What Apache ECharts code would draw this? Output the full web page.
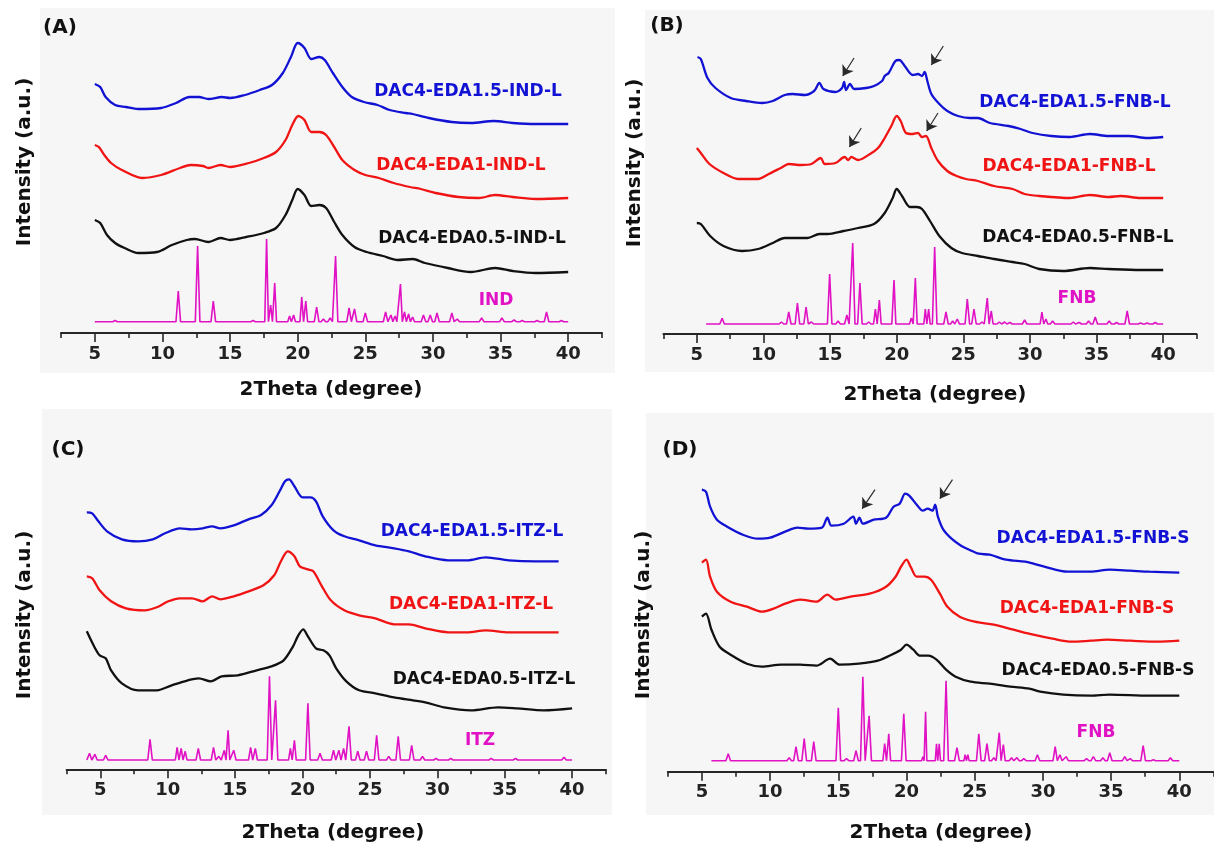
<!DOCTYPE html>
<html>
<head>
<meta charset="utf-8">
<title>XRD patterns</title>
<script src="https://cdn.jsdelivr.net/npm/echarts@6.0.0/dist/echarts.min.js"></script>
<style>
  html, body { margin: 0; padding: 0; background: #fff; }
  #chart { width: 1214px; height: 843px; }
</style>
</head>
<body>
<div id="chart"></div>
<script>
// tick labels of the 2Theta axis
var majorTicks = [5, 10, 15, 20, 25, 30, 35, 40];
var minorTicks = [2.5, 7.5, 12.5, 17.5, 22.5, 27.5, 32.5, 37.5, 42.5];

// (A) IND series, [2theta, intensity]
var blueA = [[5,249],[5.4,246],[5.8,236],[6.5,228],[7.3,226],[8.2,224],[9.9,225],[11,230],[12,236],[12.7,236],[13.4,234],[14.4,236],[15,235],[16.1,238],[17.2,243],[18.1,248],[18.9,260],[19.5,276],[20,290],[20.5,285],[21,274],[21.6,276],[22,273],[22.6,260],[23.3,246],[24,236],[24.9,231],[25.9,228],[26.8,223],[28,220],[28.5,219],[29.7,215],[31.4,211],[32.8,210],[34.5,212],[35.9,210],[37.6,209],[40,209]];
var redA = [[5,188],[5.3,186],[5.7,178],[6.2,170],[7,163],[8.5,155],[9.9,158],[11.3,165],[12.1,168],[13,167],[13.4,165],[14.3,168],[15,166],[16.4,170],[17.5,175],[18.4,181],[19.1,193],[19.6,208],[20.05,217],[20.5,213],[21,201],[21.6,201],[22.1,198],[22.7,186],[23.3,173],[24.2,163],[25,158],[26,155],[27.1,150],[28.3,146],[29.1,144],[30.2,140],[31.9,136],[33.4,135],[34.6,138],[35.9,136],[37.6,134],[40,135]];
var blackA = [[5,113],[5.4,110],[5.9,98],[6.5,90],[7.2,85],[8.2,80],[9.6,81],[10.7,88],[11.8,93],[12.4,94],[13.4,91],[14.3,95],[15,93],[16.2,96],[17.5,100],[18.4,105],[19.1,118],[19.6,133],[20,144],[20.5,138],[21,127],[21.6,128],[22.1,125],[22.7,111],[23.3,98],[24.2,86],[25.1,81],[26.3,77],[27.4,73],[28.5,74],[29.4,70],[31.1,65],[32.8,61],[34.6,65],[35.9,62],[37.6,60],[40,61]];
var peaksIND = [[6.5,12.5],[11.17,42],[12.6,87],[13.76,32],[16.7,12.5],[17.7,94],[18,28],[18.3,50],[19.4,17],[19.7,18],[20.3,36],[20.6,32],[21.4,26],[21.9,14],[22.4,15],[22.8,77],[23.8,25],[24.2,24],[25,20],[26.5,21],[26.9,18],[27.2,17],[27.6,49],[27.9,21],[28.2,19],[28.5,16],[29.3,18],[29.8,18],[30.3,20],[31.4,20],[31.8,14],[33.6,15],[35.1,15],[36,13],[36.6,12.5],[37.7,12.5],[38.4,21],[39.5,12.5]];

// (B) FNB liquid series
var blueB = [[5.05,277],[5.3,275],[5.8,256],[6.4,246],[7.55,236],[8.7,233],[9.9,231],[10.7,233],[11.6,239],[12.2,240],[13.1,239],[13.8,243],[14.2,251],[14.5,245],[15.4,242],[15.9,246],[16.05,252],[16.2,244],[16.5,250],[16.8,245],[17.7,246],[18.3,248],[18.9,253],[19.1,258],[19.4,261],[19.9,273],[20.2,274],[20.6,268],[21.2,259],[21.6,260],[21.9,258],[22.1,262],[22.3,253],[22.6,240],[23.2,230],[23.8,223],[24.6,218],[25.5,216],[26.1,216],[27,211],[28.4,208],[29.3,205],[30.2,201],[31.6,198],[33,197],[34.5,200],[35.9,198],[37.4,198],[38.8,196],[40,197]];
var redB = [[5,186],[5.3,181],[5.95,170],[7,161],[8.1,155],[9.6,155],[10.4,160],[11.3,166],[11.9,170],[12.8,169],[13.6,170],[14.3,176],[14.6,170],[15.4,171],[16.1,177],[16.35,174],[16.6,177],[17.1,174],[18,180],[18.6,186],[19.1,196],[19.6,208],[20,218],[20.3,213],[20.7,201],[21.2,200],[21.6,201],[21.9,197],[22.2,198],[22.6,186],[23.1,173],[23.8,163],[24.5,158],[25.2,155],[26.1,153],[27.3,148],[28.7,145],[29.6,140],[30.7,138],[33,136],[34.5,139],[35.9,137],[36.8,138],[38.3,136],[40,136]];
var blackB = [[5,111],[5.3,110],[6,98],[7,88],[8.4,83],[9.6,85],[10.7,91],[11.6,96],[12.5,96],[13.3,96],[14.2,100],[14.8,100],[16,103],[17.1,106],[18.3,110],[19.1,121],[19.7,136],[20,145],[20.4,138],[21,127],[21.5,127],[21.9,125],[22.5,113],[23.2,98],[24.1,86],[24.9,81],[26.1,78],[27.3,75],[28.7,72],[29.6,70],[30.7,65],[32.5,63],[34.5,66],[35.9,65],[38.3,64],[40,64]];
var peaksFNB1 = [[6.9,15.7],[11.35,12],[11.9,22],[12.55,31],[13.2,27],[13.6,12],[14.97,60],[15.6,13],[16.26,19],[16.7,91],[17.24,51],[17.9,12],[18.4,25],[18.7,34],[19.5,12],[19.8,54],[21.1,16],[21.4,56],[22.15,25],[22.4,25],[22.85,87],[23.7,22],[24.2,13],[24.55,15],[25.3,35],[25.8,25],[26.4,12],[26.8,36],[27.1,23],[27.7,12],[28.1,12],[28.5,11.5],[29.6,14],[30.9,22],[31.2,15],[31.7,13],[33.25,12],[33.7,11.5],[34.4,13],[34.9,17],[35.95,13],[36.5,11.5],[37.3,23],[38.3,11],[38.8,11],[39.4,11.5]];

// (C) ITZ series
var blueC = [[4,257],[4.4,256],[4.8,249],[5.5,238],[6.6,230],[7.8,228],[8.9,230],[9.8,236],[10.9,241],[11.8,240],[12.6,241],[13.3,243],[13.9,241],[14.9,244],[16,250],[16.9,254],[17.7,264],[18.3,278],[18.7,288],[19,290],[19.4,283],[20,272],[20.6,272],[21,268],[21.5,253],[22.3,239],[23.1,233],[24.2,229],[25.4,224],[26.8,221],[27.9,218],[29.1,213],[30.8,209],[32.2,209],[33.6,212],[35.3,209],[37.3,208],[39,208]];
var redC = [[4,193],[4.4,191],[4.95,179],[5.8,168],[6.9,161],[8.3,159],[9.2,162],[10.05,168],[10.9,171],[11.8,171],[12.6,168],[13.3,173],[13.9,170],[14.9,173],[16,178],[17.1,184],[17.9,194],[18.4,208],[18.9,218],[19.4,213],[19.8,203],[20.4,200],[20.8,198],[21.4,184],[22.1,169],[23.1,159],[24.2,154],[25.4,151],[26.8,145],[27.9,145],[29.1,141],[30.8,137],[32.2,137],[33.6,139],[35.3,137],[37.3,137],[39,137]];
var blackC = [[4,138],[4.5,124],[4.95,114],[5.4,111],[5.8,99],[6.6,86],[7.8,79],[9.2,79],[10.3,84],[11.5,89],[12.3,91],[13.2,88],[14,93],[15.2,94],[16.6,99],[17.7,103],[18.6,109],[19.3,123],[19.65,133],[20.05,140],[20.4,133],[21,121],[21.55,119],[22,114],[22.5,101],[23.25,88],[24.2,79],[25.4,76],[26.8,72],[28.2,69],[29.1,67],[30.5,62],[32.5,59],[34.5,62],[35.9,61],[37.9,59],[40,61]];
var peaksITZ = [[4.2,16],[4.6,15],[5.4,14],[8.69,30],[10.7,22],[11,21],[11.3,18],[12.27,21],[13.4,22],[13.8,13],[14.2,19],[14.48,39],[14.9,19],[16.15,22],[16.5,21],[17.55,93],[18,69],[19.1,21],[19.4,29],[20.4,66],[21.3,16],[22.3,19],[22.7,19],[23.05,21],[23.45,43],[24.1,18],[24.75,18],[25.5,34],[26.4,13],[27.1,33],[28.1,24],[28.9,13],[29.9,11],[31,11],[34,11],[35.8,11],[39.4,12]];

// (D) FNB solid series
var blueD = [[5,282],[5.3,280],[5.6,265],[6.1,252],[6.85,245],[8,237],[9.1,233],[10,234],[11.1,240],[12,244],[12.8,243],[13.8,244],[14.2,254],[14.5,246],[15.4,248],[16.1,255],[16.3,248],[16.55,254],[16.8,248],[17.6,252],[18.5,254],[19.05,265],[19.5,268],[19.9,278],[20.2,276],[20.75,267],[21.2,261],[21.55,263],[21.9,261],[22.1,267],[22.3,255],[22.7,242],[23.3,233],[24,226],[24.6,222],[25.3,218],[26.1,217],[27.3,212],[28.7,210],[29.3,208],[30.1,205],[31.8,200],[33.5,200],[34.9,202],[36.4,201],[37.8,200],[40,199]];
var redD = [[5,209],[5.3,212],[5.6,195],[6.1,180],[7.1,170],[8.3,165],[9.4,160],[10.25,163],[11.1,168],[12.2,172],[13.4,170],[14.2,177],[14.8,172],[15.9,175],[17.3,178],[18.5,185],[19.2,195],[19.6,205],[20,212],[20.3,205],[20.75,195],[21.3,195],[21.8,192],[22.45,178],[23,165],[23.9,155],[25,150],[26.4,147],[27.85,142],[29.3,137],[30.7,133],[32.1,130],[33.5,131],[34.7,132],[36.4,131],[38.4,130],[40,131]];
var blackD = [[5,155],[5.3,158],[5.7,142],[6.3,125],[7.1,117],[8.3,108],[9.4,105],[10.8,107],[12.2,107],[13.4,106],[14.4,113],[15.1,107],[16.5,108],[17.9,111],[19.05,118],[19.6,122],[20,127],[20.5,122],[21,116],[21.6,116],[22.2,112],[22.9,102],[23.6,95],[24.7,90],[26.1,88],[27.6,85],[29,83],[29.8,80],[31.5,77],[33.5,76],[34.9,77],[37.8,76],[40,76]];
var peaksFNB2 = [[6.93,18],[11.4,14],[11.9,25],[12.5,33],[13.2,30],[15,64],[15.6,13],[16.3,21],[16.8,95],[17.26,56],[18.4,28],[18.7,38],[19.8,58],[21.2,15],[21.4,60],[22.2,28],[22.4,28],[22.9,91],[23.7,24],[24.3,17],[24.5,17],[25.3,38],[25.9,28],[26.4,14],[26.8,39],[27.1,27],[27.7,14],[28.1,14],[28.6,13],[29.6,17],[30.9,25],[31.25,17],[31.7,15],[33.2,13],[33.7,15],[34.4,14],[34.9,19],[36,15],[36.4,13],[37.35,26],[38.1,12],[39.35,14]];

// arrows pointing at the crystalline FNB peaks
var arrowsB = [[[16.8,276],[15.95,258]],[[23.5,288],[22.6,269]],[[17.34,206],[16.45,187]],[[23.1,221],[22.25,203]]];
var arrowsD = [[[17.69,282],[16.75,263]],[[23.37,292],[22.45,273]]];

var FONT = '"DejaVu Sans", "Liberation Sans", sans-serif';
var BLUE = '#1212d4', RED = '#f01414', BLACK = '#111111', MAGENTA = '#e012c4';

// stick pattern from peak list: baseline, then a narrow spike for every peak
function stickPattern(peaks, base, x0, x1) {
    var pts = [[x0, base]];
    for (var i = 0; i < peaks.length; i++) {
        var p = peaks[i][0];
        var prev = i > 0 ? peaks[i - 1][0] : -1e9;
        var next = i < peaks.length - 1 ? peaks[i + 1][0] : 1e9;
        var w = Math.min(0.17, (p - prev) * 0.45, (next - p) * 0.45);
        pts.push([p - w, base], [p, peaks[i][1]], [p + w, base]);
    }
    pts.push([x1, base]);
    return pts;
}

var panels = [
    { grid: { left: 61, top: 33, width: 541, height: 300 }, yMax: 300,
      curves: [blueA, redA, blackA], ref: stickPattern(peaksIND, 11.3, 5, 40) },
    { grid: { left: 663.5, top: 34, width: 533, height: 300 }, yMax: 300,
      curves: [blueB, redB, blackB], ref: stickPattern(peaksFNB1, 10, 5.7, 40), arrows: [arrowsB.slice(0, 2), arrowsB.slice(2)] },
    { grid: { left: 66.6, top: 419.3, width: 539.2, height: 350 }, yMax: 350,
      curves: [blueC, redC, blackC], ref: stickPattern(peaksITZ, 9.3, 4, 40) },
    { grid: { left: 667.8, top: 421.7, width: 545.6, height: 350 }, yMax: 350,
      curves: [blueD, redD, blackD], ref: stickPattern(peaksFNB2, 11, 5.7, 40), arrows: [arrowsD, []] }
];

var grids = [], xAxes = [], yAxes = [], series = [];
panels.forEach(function (p, i) {
    grids.push(p.grid);
    xAxes.push({
        gridIndex: i, type: 'value', min: 2.5, max: 42.5, position: 'bottom',
        axisLine: { show: true, onZero: false, lineStyle: { color: '#262626', width: 2 } },
        axisTick: { show: true, customValues: majorTicks, length: 9, lineStyle: { color: '#262626', width: 1.6 } },
        axisLabel: { customValues: majorTicks, margin: 12, color: '#222', fontFamily: FONT, fontWeight: 'bold', fontSize: 18 },
        splitLine: { show: false }
    });
    xAxes.push({
        gridIndex: i, type: 'value', min: 2.5, max: 42.5, position: 'bottom',
        axisLine: { show: false },
        axisTick: { show: true, customValues: minorTicks, length: 5, lineStyle: { color: '#262626', width: 1.6 } },
        axisLabel: { show: false },
        splitLine: { show: false }
    });
    yAxes.push({ gridIndex: i, type: 'value', min: 0, max: p.yMax, show: false });

    var colors = [BLUE, RED, BLACK];
    p.curves.forEach(function (c, k) {
        var s = {
            type: 'line', xAxisIndex: 2 * i, yAxisIndex: i, data: c,
            showSymbol: false, symbol: 'none', smooth: 0.3,
            lineStyle: { color: colors[k], width: 2.3 }, itemStyle: { color: colors[k] }
        };
        if (p.arrows && p.arrows[k] && p.arrows[k].length) {
            s.markLine = {
                silent: true, animation: false,
                symbol: ['none', 'arrow'], symbolSize: 10,
                label: { show: false },
                lineStyle: { color: '#2a2a2a', width: 1.2, type: 'solid' },
                data: p.arrows[k].map(function (a) {
                    return [{ coord: a[0] }, { coord: a[1] }];
                })
            };
        }
        series.push(s);
    });
    series.push({
        type: 'line', xAxisIndex: 2 * i, yAxisIndex: i, data: p.ref,
        showSymbol: false, symbol: 'none',
        lineStyle: { color: MAGENTA, width: 1.6 }, itemStyle: { color: MAGENTA }
    });
});

function txt(text, x, y, color, size, rot) {
    return {
        type: 'text', x: x, y: y, z: 100, rotation: rot || 0,
        style: { text: text, fill: color, font: 'bold ' + size + 'px ' + FONT, align: 'center', verticalAlign: 'middle' }
    };
}
function bg(x, y, w, h) {
    return { type: 'rect', z: -10, shape: { x: x, y: y, width: w, height: h }, style: { fill: '#f6f6f6' } };
}

var graphics = [
    bg(40, 8, 575, 365), bg(645, 10, 569, 362), bg(42, 409, 570, 406), bg(646, 413, 568, 402),
    txt('(A)', 60, 28, '#111', 20), txt('(B)', 667, 26, '#111', 20),
    txt('(C)', 68, 450, '#111', 20), txt('(D)', 680, 450, '#111', 20),
    txt('Intensity (a.u.)', 25, 162, '#111', 20, Math.PI / 2),
    txt('Intensity (a.u.)', 635, 163, '#111', 20, Math.PI / 2),
    txt('Intensity (a.u.)', 25, 615, '#111', 20, Math.PI / 2),
    txt('Intensity (a.u.)', 644, 615, '#111', 20, Math.PI / 2),
    txt('2Theta (degree)', 331, 390, '#111', 20),
    txt('2Theta (degree)', 935, 395, '#111', 20),
    txt('2Theta (degree)', 333, 833, '#111', 20),
    txt('2Theta (degree)', 941, 833, '#111', 20),
    txt('DAC4-EDA1.5-IND-L', 468, 92, BLUE, 17),
    txt('DAC4-EDA1-IND-L', 461, 166, RED, 17),
    txt('DAC4-EDA0.5-IND-L', 472, 239, BLACK, 17),
    txt('IND', 496, 301, MAGENTA, 17),
    txt('DAC4-EDA1.5-FNB-L', 1075, 103, BLUE, 17),
    txt('DAC4-EDA1-FNB-L', 1069, 167, RED, 17),
    txt('DAC4-EDA0.5-FNB-L', 1078, 238, BLACK, 17),
    txt('FNB', 1077, 299, MAGENTA, 17),
    txt('DAC4-EDA1.5-ITZ-L', 472, 532, BLUE, 17),
    txt('DAC4-EDA1-ITZ-L', 471, 605, RED, 17),
    txt('DAC4-EDA0.5-ITZ-L', 484, 680, BLACK, 17),
    txt('ITZ', 480, 741, MAGENTA, 17),
    txt('DAC4-EDA1.5-FNB-S', 1093, 539, BLUE, 17),
    txt('DAC4-EDA1-FNB-S', 1087, 609, RED, 17),
    txt('DAC4-EDA0.5-FNB-S', 1098, 671, BLACK, 17),
    txt('FNB', 1096, 733, MAGENTA, 17)
];

var chart = echarts.init(document.getElementById('chart'), null, { renderer: 'canvas' });
chart.setOption({
    backgroundColor: '#ffffff',
    animation: false,
    grid: grids,
    xAxis: xAxes,
    yAxis: yAxes,
    series: series,
    graphic: graphics
});
</script>
</body>
</html>
